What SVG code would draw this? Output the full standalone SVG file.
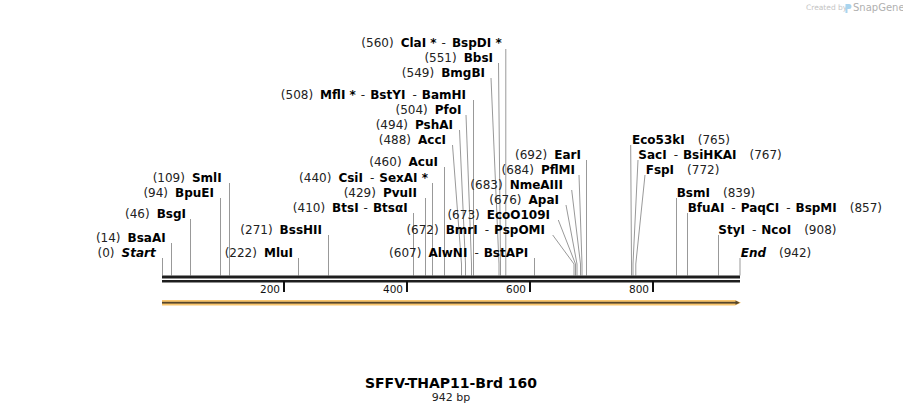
<svg xmlns="http://www.w3.org/2000/svg" width="903" height="415" viewBox="0 0 903 415">
<style>
text{font-family:"DejaVu Sans",Verdana,sans-serif;font-size:12px;fill:#111}
.n{font-weight:normal;fill:#222}
.b{font-weight:bold;fill:#000}
.e{text-anchor:end}
.i{font-style:italic}
.tk{font-size:10.5px;text-anchor:end;fill:#111}
#connectors polyline,#connectors line{stroke:#999;stroke-width:1;fill:none}
</style>
<rect width="903" height="415" fill="#fff"/>
<g id="watermark">
<text x="806" y="10" style="font-size:7.5px;fill:#c4c4c4">Created by</text>
<path d="M845.5 4 h3.5 a2.5 2.5 0 0 1 0 5 h-1.5 v4 h-2 z" fill="#a9d4ee"/>
<text x="853" y="11" style="font-size:10px;fill:#b0b0b0">SnapGene</text>
</g>
<g id="connectors">
<line x1="162.5" y1="258" x2="162.5" y2="275.5"/>
<line x1="171.5" y1="243" x2="171.5" y2="275.5"/>
<line x1="190.5" y1="219" x2="190.5" y2="275.5"/>
<line x1="220.5" y1="198" x2="220.5" y2="275.5"/>
<line x1="229.5" y1="183" x2="229.5" y2="275.5"/>
<line x1="298.5" y1="258" x2="298.5" y2="275.5"/>
<line x1="328.5" y1="235" x2="328.5" y2="275.5"/>
<line x1="413.5" y1="213" x2="413.5" y2="275.5"/>
<line x1="425.5" y1="198" x2="425.5" y2="275.5"/>
<line x1="432.5" y1="183" x2="432.5" y2="275.5"/>
<line x1="444.5" y1="167" x2="444.5" y2="275.5"/>
<polyline points="452.5,145 461.5,264 461.5,275.5"/>
<polyline points="459.5,130 465.5,264 465.5,275.5"/>
<polyline points="466,115 471.5,264 471.5,275.5"/>
<line x1="473.5" y1="100" x2="473.5" y2="275.5"/>
<polyline points="491,78 499,264 499,275.5"/>
<polyline points="498.5,63 500.5,264 500.5,275.5"/>
<line x1="505.8" y1="49" x2="505.8" y2="275.5"/>
<line x1="534.5" y1="258" x2="534.5" y2="275.5"/>
<polyline points="552.7,235 574,264 574,275.5"/>
<polyline points="558.3,220 575.5,264 575.5,275.5"/>
<polyline points="566,205 577,264 577,275.5"/>
<polyline points="571.7,190 580.5,264 580.5,275.5"/>
<polyline points="579,175 582,264 582,275.5"/>
<line x1="586.5" y1="160" x2="586.5" y2="275.5"/>
<polyline points="630.7,145 631.5,264 631.5,275.5"/>
<polyline points="638,160 633,264 633,275.5"/>
<polyline points="645,175 635.8,264 635.8,275.5"/>
<line x1="676.5" y1="198" x2="676.5" y2="275.5"/>
<line x1="687.5" y1="213" x2="687.5" y2="275.5"/>
<line x1="718.5" y1="235" x2="718.5" y2="275.5"/>
<line x1="740" y1="258" x2="740" y2="275.5"/>
</g>
<g id="backbone">
<rect x="162" y="275.5" width="578" height="3" fill="#1e1e1e"/>
<rect x="162" y="280" width="578" height="2.5" fill="#1e1e1e"/>
<rect x="283" y="281" width="2" height="11" fill="#111"/>
<rect x="406" y="281" width="2" height="11" fill="#111"/>
<rect x="529" y="281" width="2" height="11" fill="#111"/>
<rect x="652" y="281" width="2" height="11" fill="#111"/>
<text class="tk" x="280" y="293">200</text>
<text class="tk" x="403" y="293">400</text>
<text class="tk" x="526" y="293">600</text>
<text class="tk" x="649" y="293">800</text>
</g>
<g id="feature">
<polygon points="162,300 735,300 741,302.7 735,305.5 162,305.5" fill="#f9c66e"/>
<rect x="162" y="301.8" width="574" height="1.8" fill="#56462b"/>
<polygon points="735.5,300.6 739.8,302.7 735.5,304.8" fill="#56462b"/>
</g>
<g id="l-start"><text class="e" x="155.7" y="256.5"><tspan class="n">(0)</tspan><tspan class="b i" dx="7">Start</tspan></text></g>
<g id="l-bsaai"><text class="e" x="165.7" y="241.5"><tspan class="n">(14)</tspan><tspan class="b" dx="7">BsaAI</tspan></text></g>
<g id="l-bsgi"><text class="e" x="186" y="217.5"><tspan class="n">(46)</tspan><tspan class="b" dx="7">BsgI</tspan></text></g>
<g id="l-bpuei"><text class="e" x="214" y="196.5"><tspan class="n">(94)</tspan><tspan class="b" dx="7">BpuEI</tspan></text></g>
<g id="l-smli"><text class="e" x="221.7" y="181.5"><tspan class="n">(109)</tspan><tspan class="b" dx="7">SmlI</tspan></text></g>
<g id="l-mlui"><text class="e" x="293" y="256.5"><tspan class="n">(222)</tspan><tspan class="b" dx="7">MluI</tspan></text></g>
<g id="l-bsshii"><text class="e" x="322" y="233.5"><tspan class="n">(271)</tspan><tspan class="b" dx="7">BssHII</tspan></text></g>
<g id="l-btsi"><text class="e" x="407.7" y="211.5"><tspan class="n">(410)</tspan><tspan class="b" dx="7">BtsI</tspan><tspan class="n" dx="5">-</tspan><tspan class="b" dx="5">BtsαI</tspan></text></g>
<g id="l-pvuii"><text class="e" x="417" y="196.5"><tspan class="n">(429)</tspan><tspan class="b" dx="7">PvuII</tspan></text></g>
<g id="l-csii"><text class="e" x="428" y="181.5"><tspan class="n">(440)</tspan><tspan class="b" dx="7">CsiI</tspan><tspan class="n" dx="7">-</tspan><tspan class="b" dx="5">SexAI *</tspan></text></g>
<g id="l-acui"><text class="e" x="438" y="165.5"><tspan class="n">(460)</tspan><tspan class="b" dx="7">AcuI</tspan></text></g>
<g id="l-acci"><text class="e" x="446" y="143.5"><tspan class="n">(488)</tspan><tspan class="b" dx="7">AccI</tspan></text></g>
<g id="l-pshai"><text class="e" x="453" y="128.5"><tspan class="n">(494)</tspan><tspan class="b" dx="7">PshAI</tspan></text></g>
<g id="l-pfoi"><text class="e" x="461.5" y="113.5"><tspan class="n">(504)</tspan><tspan class="b" dx="7">PfoI</tspan></text></g>
<g id="l-mfli"><text class="e" x="466" y="98.5"><tspan class="n">(508)</tspan><tspan class="b" dx="7">MflI *</tspan><tspan class="n" dx="5">-</tspan><tspan class="b" dx="5">BstYI</tspan><tspan class="n" dx="7">-</tspan><tspan class="b" dx="5">BamHI</tspan></text></g>
<g id="l-bmgbi"><text class="e" x="485" y="76.5"><tspan class="n">(549)</tspan><tspan class="b" dx="7">BmgBI</tspan></text></g>
<g id="l-bbsi"><text class="e" x="493" y="61.5"><tspan class="n">(551)</tspan><tspan class="b" dx="7">BbsI</tspan></text></g>
<g id="l-clai"><text class="e" x="501.7" y="47"><tspan class="n">(560)</tspan><tspan class="b" dx="7">ClaI *</tspan><tspan class="n" dx="5">-</tspan><tspan class="b" dx="6">BspDI *</tspan></text></g>
<g id="l-alwni"><text class="e" x="528.3" y="256.5"><tspan class="n">(607)</tspan><tspan class="b" dx="7">AlwNI</tspan><tspan class="n" dx="7">-</tspan><tspan class="b" dx="5">BstAPI</tspan></text></g>
<g id="l-bmri"><text class="e" x="545" y="233.5"><tspan class="n">(672)</tspan><tspan class="b" dx="7">BmrI</tspan><tspan class="n" dx="7">-</tspan><tspan class="b" dx="5">PspOMI</tspan></text></g>
<g id="l-ecoo109i"><text class="e" x="550" y="218.5"><tspan class="n">(673)</tspan><tspan class="b" dx="7">EcoO109I</tspan></text></g>
<g id="l-apai"><text class="e" x="559" y="203.5"><tspan class="n">(676)</tspan><tspan class="b" dx="7">ApaI</tspan></text></g>
<g id="l-nmeaiii"><text class="e" x="563" y="188.5"><tspan class="n">(683)</tspan><tspan class="b" dx="7">NmeAIII</tspan></text></g>
<g id="l-pflmi"><text class="e" x="575" y="173.5"><tspan class="n">(684)</tspan><tspan class="b" dx="7">PflMI</tspan></text></g>
<g id="l-eari"><text class="e" x="581" y="158.5"><tspan class="n">(692)</tspan><tspan class="b" dx="7">EarI</tspan></text></g>
<g id="l-eco53ki"><text x="632" y="143.5"><tspan class="b">Eco53kI</tspan><tspan class="n" dx="13">(765)</tspan></text></g>
<g id="l-saci"><text x="638.3" y="158.5"><tspan class="b">SacI</tspan><tspan class="n" dx="7">-</tspan><tspan class="b" dx="5">BsiHKAI</tspan><tspan class="n" dx="13">(767)</tspan></text></g>
<g id="l-fspi"><text x="645.7" y="173.5"><tspan class="b">FspI</tspan><tspan class="n" dx="13">(772)</tspan></text></g>
<g id="l-bsmi"><text x="676.7" y="196.5"><tspan class="b">BsmI</tspan><tspan class="n" dx="13">(839)</tspan></text></g>
<g id="l-bfuai"><text x="687.7" y="211.5"><tspan class="b">BfuAI</tspan><tspan class="n" dx="7">-</tspan><tspan class="b" dx="5">PaqCI</tspan><tspan class="n" dx="7">-</tspan><tspan class="b" dx="5">BspMI</tspan><tspan class="n" dx="13">(857)</tspan></text></g>
<g id="l-styi"><text x="718.3" y="233.5"><tspan class="b">StyI</tspan><tspan class="n" dx="7">-</tspan><tspan class="b" dx="5">NcoI</tspan><tspan class="n" dx="13">(908)</tspan></text></g>
<g id="l-end"><text x="740.7" y="256.5"><tspan class="b i">End</tspan><tspan class="n" dx="13">(942)</tspan></text></g>
<g id="title">
<text x="451" y="388" text-anchor="middle" style="font-size:14px;font-weight:bold;fill:#000">SFFV-THAP11-Brd 160</text>
<text x="451" y="401" text-anchor="middle" style="font-size:11px;fill:#222">942 bp</text>
</g>
</svg>
